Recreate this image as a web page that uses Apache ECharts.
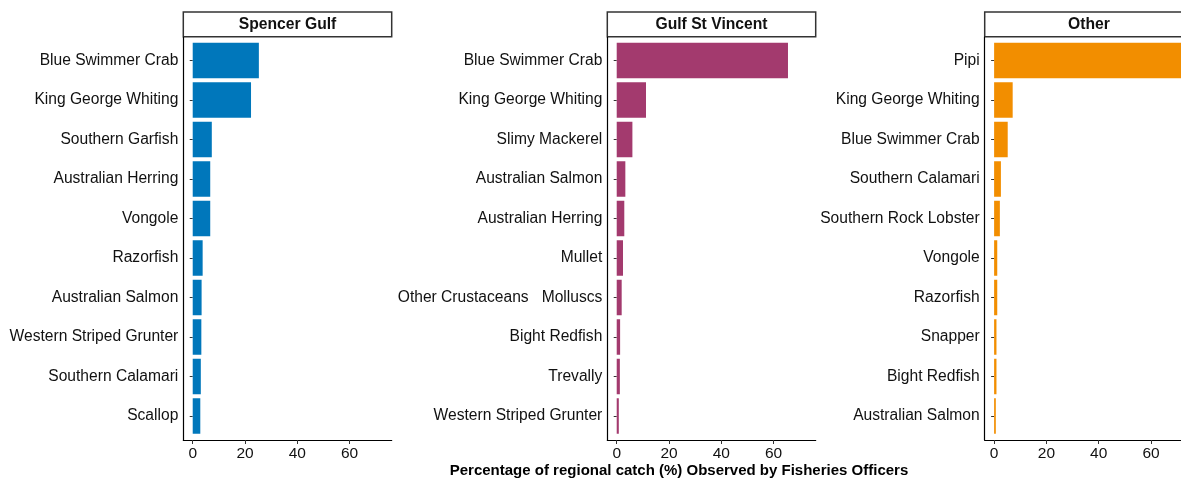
<!DOCTYPE html>
<html>
<head>
<meta charset="utf-8">
<script src="https://cdn.jsdelivr.net/npm/echarts@6/dist/echarts.min.js"></script>
<style>
  html, body { margin: 0; padding: 0; background: #fff; }
  #chart { width: 1181px; height: 478px; }
</style>
</head>
<body>
<div id="chart"></div>
<script>
  // data, top row first
  var regions = ['Spencer Gulf', 'Gulf St Vincent', 'Other'];

  var spencerSpecies = ['Blue Swimmer Crab', 'King George Whiting', 'Southern Garfish', 'Australian Herring',
    'Vongole', 'Razorfish', 'Australian Salmon', 'Western Striped Grunter', 'Southern Calamari', 'Scallop'];
  var spencerValues = [25.3, 22.3, 7.3, 6.7, 6.7, 3.8, 3.4, 3.3, 3.1, 2.9];

  var vincentSpecies = ['Blue Swimmer Crab', 'King George Whiting', 'Slimy Mackerel', 'Australian Salmon',
    'Australian Herring', 'Mullet', 'Other Crustaceans   Molluscs', 'Bight Redfish', 'Trevally', 'Western Striped Grunter'];
  var vincentValues = [65.5, 11.2, 6.0, 3.3, 2.9, 2.4, 1.9, 1.3, 1.2, 0.8];

  var otherSpecies = ['Pipi', 'King George Whiting', 'Blue Swimmer Crab', 'Southern Calamari',
    'Southern Rock Lobster', 'Vongole', 'Razorfish', 'Snapper', 'Bight Redfish', 'Australian Salmon'];
  var otherValues = [72.5, 7.1, 5.2, 2.6, 2.2, 1.2, 1.2, 0.9, 0.9, 0.65];

  var xTicks = [0, 20, 40, 60];
  var xTitle = 'Percentage of regional catch (%) Observed by Fisheries Officers';

  var panels = [
    {species: spencerSpecies, values: spencerValues},
    {species: vincentSpecies, values: vincentValues},
    {species: otherSpecies, values: otherValues}
  ];

  var font = '"Liberation Sans", Arial, sans-serif';
  var colors = ['#0077bb', '#a33a6e', '#f28e00'];
  var panelLeft = [183.3, 607.3, 984.7];
  var panelWidth = 208.4;
  var xMin = -3.6, xMax = 76.1;

  var chart = echarts.init(document.getElementById('chart'));

  var grid = [], xAxis = [], yAxis = [], series = [], graphic = [];

  panels.forEach(function (p, i) {
    // frame grid: axis lines + x ticks
    grid.push({left: panelLeft[i], width: panelWidth, top: 37, bottom: 38, outerBoundsMode: 'none'});
    xAxis.push({
      type: 'value', gridIndex: 2 * i, min: xMin, max: xMax,
      axisLine: {show: true, onZero: false, lineStyle: {color: '#000', width: 1.2}},
      axisTick: {show: true, customValues: xTicks, length: 4, lineStyle: {color: '#333'}},
      axisLabel: {customValues: xTicks, fontFamily: font, fontSize: 15.5, color: '#111', margin: 6},
      splitLine: {show: false}
    });
    yAxis.push({
      type: 'value', gridIndex: 2 * i, min: 0, max: 1,
      axisLine: {show: true, onZero: false, lineStyle: {color: '#000', width: 1.2}},
      axisTick: {show: false}, axisLabel: {show: false}, splitLine: {show: false}
    });

    // bar grid
    grid.push({left: panelLeft[i], width: panelWidth, top: 40.75, height: 395, outerBoundsMode: 'none'});
    xAxis.push({type: 'value', gridIndex: 2 * i + 1, min: xMin, max: xMax, show: false});
    yAxis.push({
      type: 'category', gridIndex: 2 * i + 1, inverse: true, data: p.species,
      axisLine: {show: false},
      axisTick: {show: true, alignWithLabel: true, length: 3, lineStyle: {color: '#333'}},
      axisLabel: {fontFamily: font, fontSize: 15.6, color: '#111', margin: 5, padding: [3, 0, 0, 0]}
    });

    series.push({
      type: 'bar', xAxisIndex: 2 * i + 1, yAxisIndex: 2 * i + 1,
      data: p.values, barWidth: 35.5,
      itemStyle: {color: colors[i]},
      silent: true
    });

    // facet strip
    graphic.push({
      type: 'rect', shape: {x: panelLeft[i], y: 12, width: panelWidth, height: 24.7},
      style: {fill: '#fff', stroke: '#333', lineWidth: 1.5}
    });
    graphic.push({
      type: 'text', x: panelLeft[i] + panelWidth / 2, y: 25,
      style: {text: regions[i], font: 'bold 15.7px ' + font, fill: '#111', align: 'center', verticalAlign: 'middle'}
    });
  });

  graphic.push({
    type: 'text', x: 679, y: 471,
    style: {text: xTitle, font: 'bold 15px ' + font, fill: '#000', align: 'center', verticalAlign: 'middle'}
  });

  chart.setOption({
    animation: false,
    grid: grid,
    xAxis: xAxis,
    yAxis: yAxis,
    series: series,
    graphic: graphic
  });
</script>
</body>
</html>
